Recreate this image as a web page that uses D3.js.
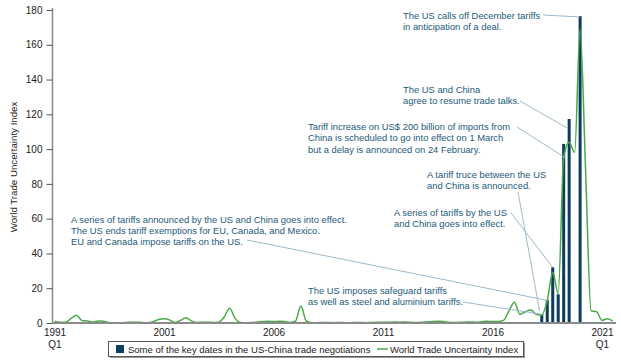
<!DOCTYPE html>
<html><head><meta charset="utf-8">
<script src="https://cdn.jsdelivr.net/npm/d3@7"></script>
<style>
body{margin:0;background:#fff;}
svg{display:block;font-family:"Liberation Sans",Arial,Helvetica,sans-serif;}
</style></head>
<body><svg id="c" width="621" height="364"></svg>
<script>
// ---- data ----
// World Trade Uncertainty Index, quarterly points (index 0 = first quarter shown)
const wuiValues = [
 1.0,0.5,0.5,2.5,4.5,1.5,1.2,0.5,1.2,1.0,
 0.3,0.2,0.2,0.3,0.5,0.5,0.3,0.2,0.8,2.0,
 2.5,1.8,0.3,1.5,3.0,1.2,0.3,0.5,0.5,0.3,
 0.5,3.5,8.5,2.5,0.3,0.2,0.3,0.5,0.8,1.0,
 0.8,1.0,0.8,0.3,1.0,9.8,1.0,0.2,0.2,0.3,
 0.3,0.2,0.3,0.2,0.2,0.3,0.3,0.2,0.3,0.4,
 0.5,0.4,0.6,0.5,0.6,0.4,0.3,0.4,0.6,0.8,
 1.0,0.8,0.4,0.3,0.4,0.5,0.6,0.5,0.7,1.0,
 0.8,0.8,1.5,7.0,12.0,5.0,6.5,7.5,5.0,4.5,
 13.0,29.0,17.0,95.0,104.0,98.0,169.0,88.0,7.0,6.5,
 1.5,2.5,1.0
];
// key dates in the US-China trade negotiations (quarter index, value)
const barIndex  = [89, 90, 91, 92, 93, 94, 96];
const barValues = [5.1, 13.2, 32, 16.5, 103, 117.3, 176.5];
const yTicks = [0,20,40,60,80,100,120,140,160,180];
const xTickIndex  = [0, 20, 40, 60, 80, 100];
const xTickLabels = [["1991","Q1"],["2001"],["2006"],["2011"],["2016"],["2021","Q1"]];
const seriesNames = ["Some of the key dates in the US-China trade negotiations","World Trade Uncertainty Index"];
const yTitle = "World Trade Uncertainty Index";
const annotations = [
 {lines:["The US calls off December tariffs","in anticipation of a deal."], ti:96, tv:176},
 {lines:["The US and China","agree to resume trade talks."], ti:93.7, tv:112},
 {lines:["Tariff increase on US$ 200 billion of imports from","China is scheduled to go into effect on 1 March","but a delay is announced on 24 February."], ti:93.3, tv:95},
 {lines:["A tariff truce between the US","and China is announced."], ti:88.6, tv:7},
 {lines:["A series of tariffs by the US","and China goes into effect."], ti:91, tv:32},
 {lines:["A series of tariffs announced by the US and China goes into effect.","The US ends tariff exemptions for EU, Canada, and Mexico.","EU and Canada impose tariffs on the US."], ti:90, tv:13},
 {lines:["The US imposes safeguard tariffs","as well as steel and aluminium tariffs."], ti:89, tv:5}
];
// ---- layout (positions only) ----
const annLayout = [
 {x:403, y:18.5, sx:543, sy:15},
 {x:403, y:92.5, sx:520, sy:101},
 {x:308, y:130,  sx:517, sy:127},
 {x:427, y:177.5,sx:518, sy:192},
 {x:394, y:216,  sx:511, sy:213},
 {x:71,  y:222.5,sx:247, sy:240},
 {x:308, y:293.5,sx:463, sy:302}
];
const C = {bar:"#0c3d5c", line:"#4aa84a", ann:"#1d5a78", lead:"#9dbac9", axis:"#8a8a8a", text:"#222"};

const svg = d3.select("#c");
const x = d3.scaleLinear().domain([0,100]).range([54.5,602]);
const y = d3.scaleLinear().domain([0,180]).range([323,10]);

// y axis
const yAx = svg.append("g").attr("transform","translate(52.5,0)")
  .call(d3.axisLeft(y).tickValues(yTicks).tickSize(6).tickPadding(4));
yAx.select(".domain").attr("stroke",C.axis).attr("stroke-width",1.5).attr("d","M0,323V8");
yAx.selectAll(".tick line").attr("stroke","#555");
yAx.selectAll(".tick text").attr("font-size",10).attr("fill",C.text).attr("font-family","Liberation Sans, Arial, sans-serif");

svg.append("text").attr("transform","translate(17,167) rotate(-90)")
  .attr("text-anchor","middle").attr("font-size",9.7).attr("fill",C.text).text(yTitle);

// bars
svg.append("g").selectAll("rect").data(barIndex).join("rect")
  .attr("x",(d)=>x(d)-1.5).attr("width",3)
  .attr("y",(d,i)=>y(barValues[i])).attr("height",(d,i)=>y(0)-y(barValues[i]))
  .attr("fill",C.bar);

// line
const line = d3.line().x((d,i)=>x(i)).y(d=>y(d)).curve(d3.curveMonotoneX);
svg.append("path").datum(wuiValues).attr("d",line).attr("fill","none")
  .attr("stroke",C.line).attr("stroke-width",1.5);

// x axis
const xAx = svg.append("g").attr("transform","translate(0,323)")
  .call(d3.axisBottom(x).tickValues(xTickIndex).tickSize(0).tickPadding(6).tickFormat(""));
xAx.select(".domain").attr("stroke",C.axis).attr("stroke-width",2).attr("d","M52,0H616");
xAx.selectAll(".tick text").remove();
xAx.selectAll(".tick").each(function(d,i){
  const t = d3.select(this).append("text").attr("text-anchor","middle").attr("font-size",10)
    .attr("fill",C.text).attr("y",12.5);
  xTickLabels[i].forEach((s,k)=>t.append("tspan").attr("x",0).attr("dy",k?12.5:0).text(s));
});

// annotations
annotations.forEach((a,k)=>{
  const L = annLayout[k];
  svg.append("line").attr("x1",L.sx).attr("y1",L.sy).attr("x2",x(a.ti)).attr("y2",y(a.tv))
    .attr("stroke",C.lead).attr("stroke-width",1);
  const t = svg.append("text").attr("font-size",9.4).attr("fill",C.ann);
  a.lines.forEach((s,j)=>t.append("tspan").attr("x",L.x).attr("y",L.y+j*11.4).text(s));
});

// legend
const lg = svg.append("g");
lg.append("rect").attr("x",110).attr("y",343).attr("width",415).attr("height",15).attr("fill","#999");
lg.append("rect").attr("x",108.5).attr("y",341.5).attr("width",415).attr("height",15).attr("fill","#fff").attr("stroke","#555");
lg.append("rect").attr("x",116).attr("y",345).attr("width",8).attr("height",8).attr("fill",C.bar);
lg.append("text").attr("x",128).attr("y",352.5).attr("font-size",9.5).attr("fill",C.text).text(seriesNames[0]);
lg.append("line").attr("x1",377).attr("x2",388).attr("y1",349).attr("y2",349).attr("stroke",C.line).attr("stroke-width",1.5);
lg.append("text").attr("x",390).attr("y",352.5).attr("font-size",9.5).attr("fill",C.text).text(seriesNames[1]);
</script></body></html>
